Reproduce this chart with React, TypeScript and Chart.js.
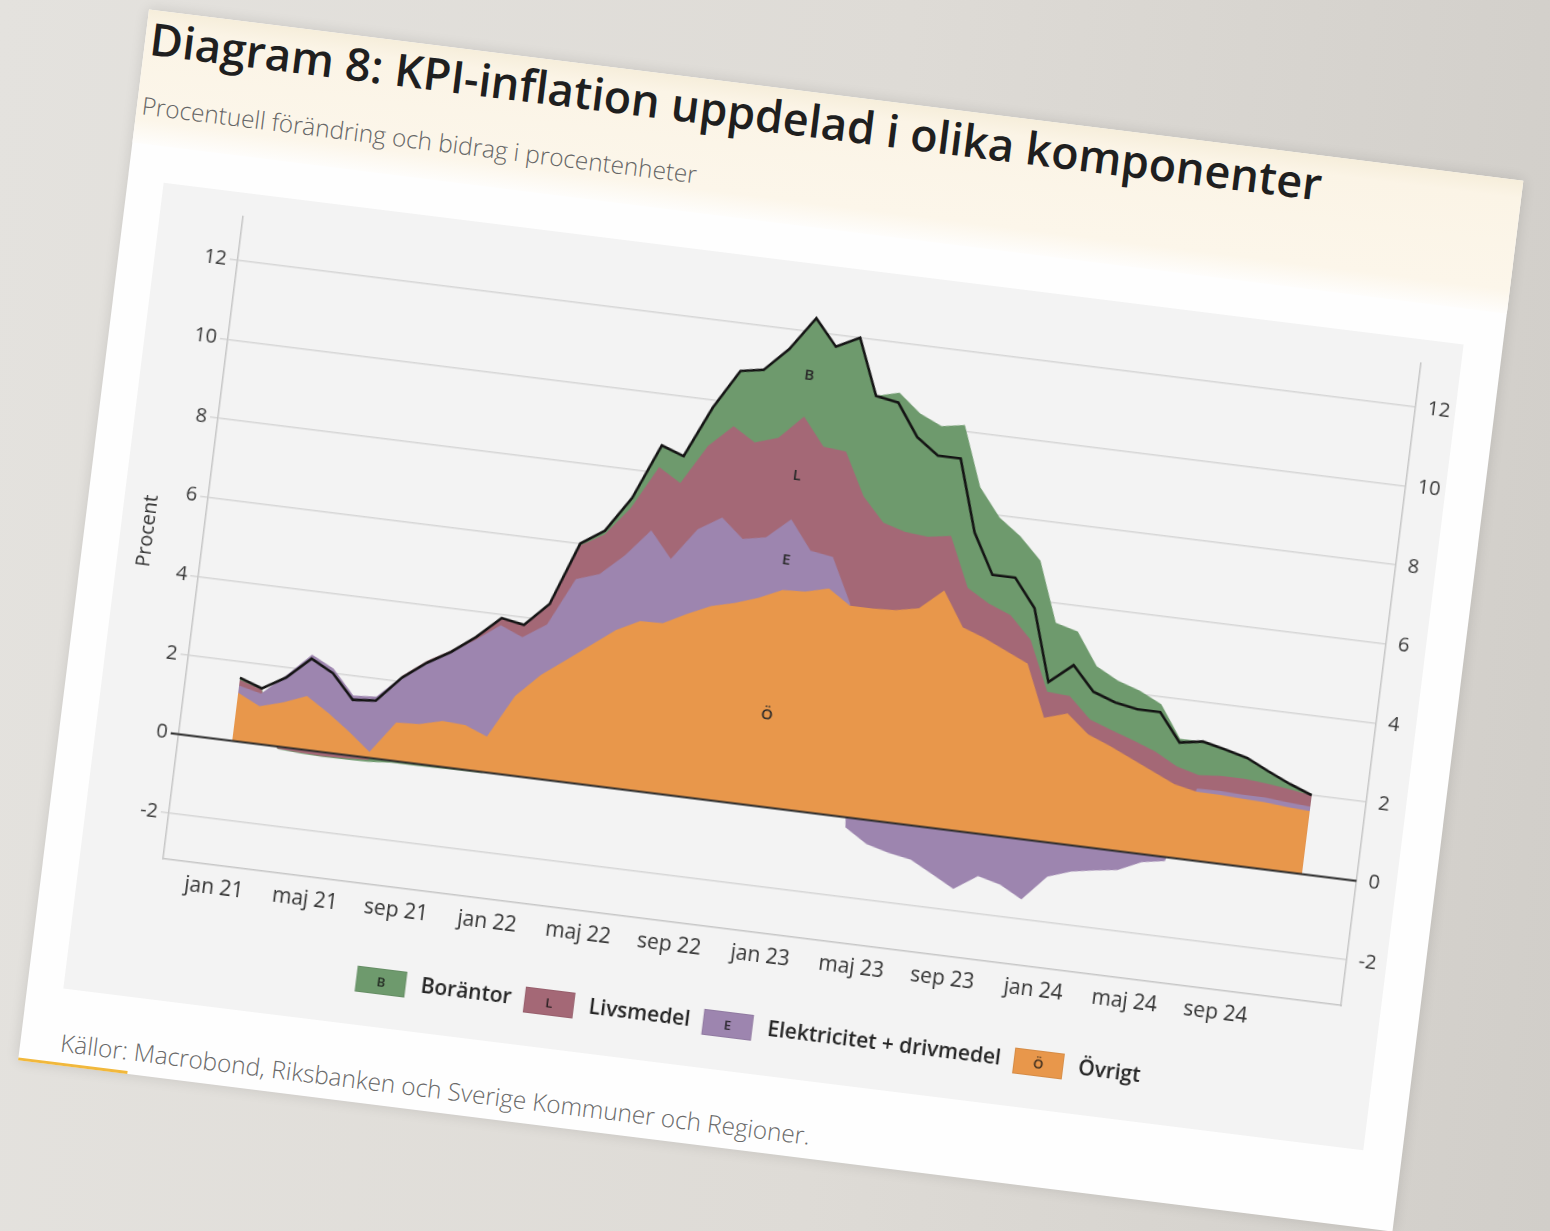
import React, { useEffect, useRef } from "react";
import { Chart, registerables } from "chart.js";

Chart.register(...registerables);

const FONT = "'Open Sans', 'DejaVu Sans', sans-serif";

// Categories (monthly, jan 2021 - dec 2024)
const monthLabels = [
  "jan 21", "feb 21", "mar 21", "apr 21", "maj 21", "jun 21", "jul 21", "aug 21", "sep 21", "okt 21", "nov 21", "dec 21",
  "jan 22", "feb 22", "mar 22", "apr 22", "maj 22", "jun 22", "jul 22", "aug 22", "sep 22", "okt 22", "nov 22", "dec 22",
  "jan 23", "feb 23", "mar 23", "apr 23", "maj 23", "jun 23", "jul 23", "aug 23", "sep 23", "okt 23", "nov 23", "dec 23",
  "jan 24", "feb 24", "mar 24", "apr 24", "maj 24", "jun 24", "jul 24", "aug 24", "sep 24", "okt 24", "nov 24", "dec 24",
];
const xTickIndices = [0, 4, 8, 12, 16, 20, 24, 28, 32, 36, 40, 44];
const yTicks = [-2, 0, 2, 4, 6, 8, 10, 12];

// KPI, total (percent)
const kpi = [
  1.6, 1.4, 1.75, 2.3, 2.0, 1.4, 1.45, 2.1, 2.55, 2.9, 3.35, 3.9,
  3.8, 4.4, 6.0, 6.4, 7.3, 8.7, 8.5, 9.8, 10.8, 10.9, 11.5, 12.35,
  11.7, 12.0, 10.6, 10.5, 9.7, 9.3, 9.3, 7.5, 6.5, 6.5, 5.8, 4.0,
  4.5, 3.9, 3.7, 3.6, 3.6, 2.9, 3.0, 2.87, 2.73, 2.46, 2.21, 2.0,
];
// Contributions (percentage points)
const ovrigt = [
  1.22, 0.95, 1.12, 1.35, 1.0, 0.6, 0.15, 0.97, 1.0, 1.15, 1.12, 0.9,
  2.0, 2.6, 3.05, 3.5, 3.95, 4.25, 4.27, 4.58, 4.85, 5.0, 5.2, 5.47,
  5.5, 5.65, 5.29, 5.29, 5.32, 5.44, 5.96, 5.1, 4.9, 4.65, 4.4, 3.1,
  3.28, 2.82, 2.6, 2.35, 2.1, 1.85, 1.73, 1.72, 1.7, 1.68, 1.63, 1.6,
];
const elektricitet = [
  0.18, 0.32, 0.69, 1.05, 1.12, 0.91, 1.4, 1.16, 1.57, 1.74, 2.16, 2.82,
  1.49, 1.28, 2.05, 1.8, 1.9, 2.3, 1.63, 2.14, 2.24, 1.62, 1.53, 1.79,
  1.04, 0.8, 0.05, -0.25, -0.6, -0.75, -0.85, -1.15, -1.45, -1.05, -1.2, -1.5,
  -0.85, -0.65, -0.55, -0.47, -0.2, -0.1, 0.08, 0.1, 0.1, 0.12, 0.12, 0.11,
];
const livsmedel = [
  0.15, 0.1, -0.05, -0.08, -0.1, -0.08, -0.05, 0.02, 0.03, 0.05, 0.1, 0.2,
  0.3, 0.5, 0.85, 1.0, 1.2, 1.6, 1.92, 2.11, 2.31, 2.44, 2.52, 2.6,
  2.63, 2.67, 2.72, 2.17, 1.98, 1.81, 1.38, 1.0, 0.87, 0.9, 0.6, 0.66,
  0.44, 0.38, 0.4, 0.46, 0.5, 0.45, 0.34, 0.38, 0.4, 0.35, 0.33, 0.28,
];
const borantor = [
  0.05, 0.03, -0.01, -0.02, -0.02, -0.03, -0.05, -0.05, -0.05, -0.04, -0.03, -0.02,
  0.01, 0.02, 0.05, 0.1, 0.25, 0.55, 0.68, 0.97, 1.4, 1.84, 2.25, 2.49,
  2.53, 2.88, 2.54, 3.29, 3.0, 2.8, 2.81, 2.55, 2.18, 2.0, 2.0, 1.74,
  1.63, 1.35, 1.25, 1.26, 1.2, 0.7, 0.85, 0.67, 0.53, 0.31, 0.13, 0.01,
];

// Stack order: bottom to top
const seriesNames = ["Övrigt", "Elektricitet + drivmedel", "Livsmedel", "Boräntor"];
const seriesLetters = ["Ö", "E", "L", "B"];
const seriesColors = ["#e8974b", "#9d85af", "#a46876", "#6e9a6d"];
const seriesValues = [ovrigt, elektricitet, livsmedel, borantor];
const bandLabelMonth = 23;

const overlayPlugin = {
  id: "overlay",
  afterDatasetsDraw(chart: any) {
    const { ctx, chartArea, scales } = chart;
    const x = scales.x;
    const y = scales.y;
    const y0 = y.getPixelForValue(0);
    ctx.save();
    ctx.strokeStyle = "#2b2b2b";
    ctx.lineWidth = 2;
    ctx.beginPath();
    ctx.moveTo(chartArea.left - 8, y0);
    ctx.lineTo(chartArea.right, y0);
    ctx.stroke();

    // band letters
    let lower = 0;
    ctx.font = `600 15px ${FONT}`;
    ctx.textAlign = "center";
    ctx.textBaseline = "middle";
    ctx.fillStyle = "#2a2a2a";
    const px = x.getPixelForValue(bandLabelMonth);
    seriesValues.forEach((vals, k) => {
      const v = vals[bandLabelMonth];
      if (v > 0) {
        const upper = lower + v;
        const py = y.getPixelForValue(lower + (upper - lower) * 0.42);
        ctx.fillText(seriesLetters[k], px, py);
        lower = upper;
      }
    });
    ctx.restore();
  },
  afterDraw(chart: any) {
    const { ctx, chartArea } = chart;
    ctx.save();
    // y axis title
    ctx.font = `400 20px ${FONT}`;
    ctx.fillStyle = "#333";
    ctx.textAlign = "center";
    ctx.textBaseline = "middle";
    ctx.translate(chartArea.left - 56, (chartArea.top + chartArea.bottom) / 2);
    ctx.rotate(-Math.PI / 2);
    ctx.fillText("Procent", 0, 0);
    ctx.restore();

    // legend
    ctx.save();
    const sw = 50, sh = 26, gapText = 15, gapItem = 13;
    ctx.font = `600 21px ${FONT}`;
    const order = [3, 2, 1, 0];
    const widths = order.map((k) => ctx.measureText(seriesNames[k]).width);
    const total = widths.reduce((a, b) => a + b, 0) + order.length * (sw + gapText) + gapItem * (order.length - 1);
    let cx = (chartArea.left + chartArea.right) / 2 + 8 - total / 2;
    const cy = chartArea.bottom + 95;
    order.forEach((k, i) => {
      ctx.fillStyle = seriesColors[k];
      ctx.fillRect(cx, cy - sh / 2, sw, sh);
      ctx.strokeStyle = "rgba(0,0,0,0.08)";
      ctx.lineWidth = 1;
      ctx.strokeRect(cx + 0.5, cy - sh / 2 + 0.5, sw - 1, sh - 1);
      ctx.font = `600 13px ${FONT}`;
      ctx.fillStyle = "rgba(20,20,20,0.85)";
      ctx.textAlign = "center";
      ctx.textBaseline = "middle";
      ctx.fillText(seriesLetters[k], cx + sw / 2, cy + 1);
      ctx.font = `600 21px ${FONT}`;
      ctx.fillStyle = "#262626";
      ctx.textAlign = "left";
      ctx.fillText(seriesNames[k], cx + sw + gapText, cy);
      cx += sw + gapText + widths[i] + gapItem;
    });
    ctx.restore();
  },
};

export default function App() {
  const ref = useRef<HTMLCanvasElement>(null);

  useEffect(() => {
    if (!ref.current) return;
    Chart.defaults.font.family = FONT;
    const datasets: any[] = [
      {
        label: "KPI",
        data: kpi.map((v, i) => ({ x: i, y: v })),
        stack: "kpi",
        xAxisID: "x",
        yAxisID: "y",
        borderColor: "#141414",
        borderWidth: 2.6,
        pointRadius: 0,
        fill: false,
        tension: 0,
      },
      ...seriesValues.map((vals, k) => ({
        label: seriesNames[k],
        data: vals.map((v, i) => ({ x: i, y: v })),
        stack: "komponenter",
        xAxisID: "x",
        yAxisID: "y",
        backgroundColor: seriesColors[k],
        borderColor: seriesColors[k],
        borderWidth: 0,
        pointRadius: 0,
        fill: "origin",
        tension: 0,
      })),
    ];

    const chart = new Chart(ref.current, {
      type: "line",
      data: { datasets },
      plugins: [overlayPlugin],
      options: {
        animation: false,
        responsive: false,
        layout: { padding: { top: 19, left: 0, right: 0, bottom: 0 } },
        plugins: { legend: { display: false }, tooltip: { enabled: false } },
        scales: {
          x: {
            type: "linear",
            min: -2.35,
            max: 49.4,
            grid: { display: false, drawTicks: false },
            border: { display: true, color: "#c6c6c6", width: 1.5 },
            afterBuildTicks: (s: any) => {
              s.ticks = xTickIndices.map((v) => ({ value: v }));
            },
            afterFit: (s: any) => {
              s.height = 141;
            },
            ticks: {
              autoSkip: false,
              maxRotation: 0,
              padding: 10,
              color: "#333",
              font: { size: 21 },
              callback: (v: any) => monthLabels[v] ?? "",
            },
          },
          y: {
            stacked: true,
            min: -3.15,
            max: 13.1,
            afterBuildTicks: (s: any) => {
              s.ticks = yTicks.map((v) => ({ value: v }));
            },
            afterFit: (s: any) => {
              s.width = 83;
            },
            grid: { color: "#d6d6d6", lineWidth: 1.5, tickLength: 8, drawTicks: true },
            border: { display: true, color: "#c6c6c6", width: 1.5 },
            ticks: { padding: 3, color: "#3a3a3a", font: { size: 20 } },
          },
          y2: {
            position: "right",
            min: -3.15,
            max: 13.1,
            afterBuildTicks: (s: any) => {
              s.ticks = yTicks.map((v) => ({ value: v }));
            },
            afterFit: (s: any) => {
              s.width = 40;
            },
            grid: { drawOnChartArea: false, drawTicks: false },
            border: { display: true, color: "#c6c6c6", width: 1.5 },
            ticks: { padding: 12, color: "#3a3a3a", font: { size: 20 } },
          },
        },
      } as any,
    });
    return () => chart.destroy();
  }, []);

  return (
    <div
      style={{
        position: "fixed",
        inset: 0,
        overflow: "hidden",
        background: "linear-gradient(95deg, #e4e2de 0%, #dedbd6 55%, #d1cec9 100%)",
      }}
    >
      <div
        style={{
          position: "absolute",
          left: 0,
          top: 0,
          width: 1385,
          height: 1059,
          transformOrigin: "0 0",
          transform: "rotate(7.1deg) translate(149px, -9px)",
          background: "#fefefe",
          boxShadow: "0 0 14px rgba(0,0,0,0.12)",
          fontFamily: FONT,
        }}
      >
        <div
          style={{
            position: "absolute",
            left: 0,
            top: 0,
            right: 0,
            height: 134,
            background: "linear-gradient(180deg, #f6eedb 0px, #fbf4e6 18px, #fcf6ea 110px, #fefdfb 134px)",
          }}
        />
        <div
          style={{
            position: "absolute",
            left: 5,
            top: 5,
            fontSize: 45,
            fontWeight: 600,
            lineHeight: 1,
            color: "#1f1f1f",
            whiteSpace: "nowrap",
          }}
        >
          Diagram 8: KPI-inflation uppdelad i olika komponenter
        </div>
        <div
          style={{
            position: "absolute",
            left: 5,
            top: 84,
            fontSize: 24.4,
            fontWeight: 300,
            lineHeight: 1,
            color: "#666",
            whiteSpace: "nowrap",
          }}
        >
          Procentuell förändring och bidrag i procentenheter
        </div>
        <div
          style={{
            position: "absolute",
            left: 36,
            top: 170,
            width: 1310,
            height: 812,
            background: "#f3f3f3",
          }}
        >
          <canvas ref={ref} width={1310} height={812} style={{ display: "block" }} />
        </div>
        <div
          style={{
            position: "absolute",
            left: 40,
            top: 1024,
            fontSize: 24.4,
            fontWeight: 300,
            lineHeight: 1,
            color: "#6a6a6a",
            whiteSpace: "nowrap",
          }}
        >
          Källor: Macrobond, Riksbanken och Sverige Kommuner och Regioner.
        </div>
        <div
          style={{
            position: "absolute",
            left: 0,
            bottom: 0,
            width: 110,
            height: 3,
            background: "#f1b83c",
          }}
        />
      </div>
    </div>
  );
}
